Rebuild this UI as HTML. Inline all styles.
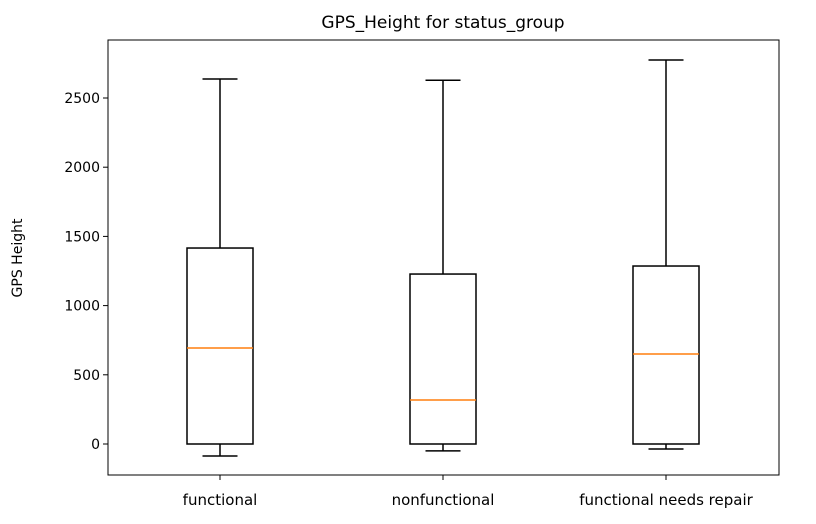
<!DOCTYPE html>
<html><head><meta charset="utf-8"><style>
body{margin:0;background:#fff;font-family:"DejaVu Sans","Liberation Sans",sans-serif;}
</style></head><body>
<svg id="chart" width="816" height="520" xmlns="http://www.w3.org/2000/svg">
<text x="443" y="28" text-anchor="middle" font-size="17" fill="#000">GPS_Height for status_group</text>
<text transform="translate(22,258) rotate(-90)" text-anchor="middle" font-size="14" fill="#000">GPS Height</text>
<g id="marks"></g>
<rect x="108" y="40" width="671" height="435" fill="none" stroke="#000" stroke-width="1"/>
</svg>
<script>
const categories = ["functional", "nonfunctional", "functional needs repair"];
const whiskerLow = [-87, -50, -36];
const q1 = [0, 0, 0];
const medians = [694, 318, 650];
const q3 = [1416, 1228, 1286];
const whiskerHigh = [2637, 2628, 2775];
const yTicks = [0, 500, 1000, 1500, 2000, 2500];

const svg = document.getElementById('marks');
const NS = 'http://www.w3.org/2000/svg';
const y = v => 444 - v * (346 / 2500);
const x = i => 220 + i * 223;
function mk(tag, attrs) { const e = document.createElementNS(NS, tag); for (const k in attrs) e.setAttribute(k, attrs[k]); svg.appendChild(e); return e; }

yTicks.forEach(t => {
  const l = mk('line', {x1: 103, x2: 108, y1: y(t), y2: y(t), stroke: '#000'});
  
  
  const tx = mk('text', {x: 100, y: y(t) + 5, 'text-anchor': 'end', 'font-size': 14});
  tx.textContent = t;
  
  
});

categories.forEach((c, i) => {
  const cx = x(i);
  const tk = mk('line', {x1: cx, x2: cx, y1: 475, y2: 480, stroke: '#000'});
  
  
  const tl = mk('text', {x: cx, y: 505, 'text-anchor': 'middle', 'font-size': 15});
  tl.textContent = c;
  
  
  const s = {stroke: '#000', 'stroke-width': 1.5, fill: 'none'};
  const wl = mk('line', Object.assign({x1: cx, x2: cx, y1: y(q1[i]), y2: y(whiskerLow[i])}, s));
  
  
  const wh = mk('line', Object.assign({x1: cx, x2: cx, y1: y(q3[i]), y2: y(whiskerHigh[i])}, s));
  
  
  const cl = mk('line', Object.assign({x1: cx - 17.5, x2: cx + 17.5, y1: y(whiskerLow[i]), y2: y(whiskerLow[i])}, s));
  
  
  const ch = mk('line', Object.assign({x1: cx - 17.5, x2: cx + 17.5, y1: y(whiskerHigh[i]), y2: y(whiskerHigh[i])}, s));
  
  
  const b = mk('rect', Object.assign({x: cx - 33, width: 66, y: y(q3[i]), height: y(q1[i]) - y(q3[i])}, s));
  
  
  const m = mk('line', {x1: cx - 33, x2: cx + 33, y1: y(medians[i]), y2: y(medians[i]), stroke: '#ff7f0e', 'stroke-width': 1.5});
  
  
});
</script>
</body></html>
